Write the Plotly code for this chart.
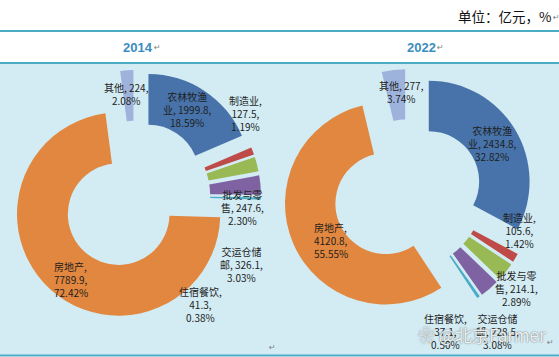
import plotly.graph_objects as go

# ---------------- data ----------------
categories = ["农林牧渔业", "制造业", "批发与零售", "交运仓储邮", "住宿餐饮", "房地产", "其他"]
values_2014 = [1999.8, 127.5, 247.6, 326.1, 41.3, 7789.9, 224]
pct_2014 = [18.59, 1.19, 2.30, 3.03, 0.38, 72.42, 2.08]
values_2022 = [2434.8, 105.6, 214.1, 228.5, 37.1, 4120.8, 277]
pct_2022 = [32.82, 1.42, 2.89, 3.08, 0.50, 55.55, 3.74]
years = ["2014", "2022"]
unit_text = "单位：亿元，%"

# ---------------- style ----------------
W, H = 559, 357
colors = ["#4773AA", "#BE4B48", "#98B954", "#7E62A1", "#4BACC6", "#E1873F", "#9EB3DC"]
PULL = 0.24
R_BOX = [126, 125]  # half size of pie box (px)
centers = [(135, 196), (408, 194)]

def px(x):
    return x / W

def py(y):
    return 1 - y / H

# label positions (px), anchor
label_pos = [
    {  # 2014
        "农林牧渔业": (187, 109, "center"),
        "制造业": (245, 113, "center"),
        "批发与零售": (242, 207, "center"),
        "交运仓储邮": (241, 264, "center"),
        "住宿餐饮": (200, 304, "center"),
        "房地产": (52, 279, "left"),
        "其他": (126, 94, "center"),
    },
    {  # 2022
        "农林牧渔业": (492, 143, "center"),
        "制造业": (519, 230, "center"),
        "批发与零售": (516, 288, "center"),
        "交运仓储邮": (497, 331, "center"),
        "住宿餐饮": (445, 331, "center"),
        "房地产": (312, 240, "left"),
        "其他": (401, 92, "center"),
    },
]
title_pos = [(138, 48), (421, 48)]

def label_text(name, val, pct):
    v = f"{val:g}"
    p = f"{pct:.2f}%"
    if len(name) > 4:
        return f"{name[:4]}<br>{name[4:]}, {v},<br>{p}"
    if len(name) <= 2:
        return f"{name}, {v},<br>{p}"
    return f"{name},<br>{v},<br>{p}"

fig = go.Figure()
annotations = []
all_values = [values_2014, values_2022]
all_pcts = [pct_2014, pct_2022]

for i, (vals, pcts) in enumerate(zip(all_values, all_pcts)):
    cx, cy = centers[i]
    rb = R_BOX[i]
    fig.add_trace(go.Pie(
        labels=categories,
        values=vals,
        sort=False,
        direction="clockwise",
        rotation=0,
        hole=0.5,
        pull=[PULL] * len(vals),
        marker=dict(colors=colors, line=dict(width=0)),
        textinfo="none",
        showlegend=False,
        domain=dict(x=[px(cx - rb), px(cx + rb)],
                    y=[py(cy + rb), py(cy - rb)]),
    ))
    for name, v, p in zip(categories, vals, pcts):
        x, y, anc = label_pos[i][name]
        annotations.append(dict(
            x=px(x), y=py(y), xref="paper", yref="paper",
            text=label_text(name, v, p), showarrow=False,
            xanchor=anc, yanchor="middle", align=anc,
            font=dict(family="Noto Sans CJK SC", size=10, color="#1E1E1E"),
        ))
    tx, ty = title_pos[i]
    annotations.append(dict(
        x=px(tx), y=py(ty), xref="paper", yref="paper",
        text=f"<b>{years[i]}</b>", showarrow=False,
        xanchor="center", yanchor="middle",
        font=dict(family="Liberation Sans", size=13, color="#3A8DBE"),
    ))
    annotations.append(dict(
        x=px(tx + 14), y=py(ty), xref="paper", yref="paper",
        text="↵", showarrow=False, xanchor="left", yanchor="middle",
        font=dict(family="DejaVu Sans", size=8, color="#808080"),
    ))

# unit text
annotations.append(dict(
    x=px(553), y=py(16), xref="paper", yref="paper", text=unit_text,
    showarrow=False, xanchor="right", yanchor="middle",
    font=dict(family="Noto Sans CJK SC", size=13.5, color="#111111"),
))
for (x, y) in [(556, 17), (267, 347), (545, 342)]:
    annotations.append(dict(
        x=px(x), y=py(y), xref="paper", yref="paper", text="↵",
        showarrow=False, xanchor="left" if x < 550 else "center", yanchor="middle",
        font=dict(family="DejaVu Sans", size=8, color="#808080"),
    ))
# watermark
annotations.append(dict(
    x=px(548), y=py(334), xref="paper", yref="paper", text="❀ @北京Farmer",
    showarrow=False, xanchor="right", yanchor="middle",
    font=dict(family="Noto Sans CJK SC", size=17, color="rgba(255,255,255,0.9)",
              shadow="0px 0px 1.5px rgba(60,60,60,1)"),
))

shapes = [
    dict(type="rect", xref="paper", yref="paper", x0=0, x1=1,
         y0=py(355), y1=py(63), fillcolor="#D3EBF3", line=dict(width=0), layer="below"),
    dict(type="line", xref="paper", yref="paper", x0=0, x1=1, y0=py(31), y1=py(31),
         line=dict(color="#4BACC6", width=2), layer="below"),
    dict(type="line", xref="paper", yref="paper", x0=0, x1=1, y0=py(63), y1=py(63),
         line=dict(color="#4BACC6", width=2), layer="below"),
    dict(type="line", xref="paper", yref="paper", x0=0, x1=1, y0=py(355.5), y1=py(355.5),
         line=dict(color="#4BACC6", width=2), layer="below"),
]

fig.update_layout(
    width=W, height=H, autosize=False,
    margin=dict(l=0, r=0, t=0, b=0),
    paper_bgcolor="white", plot_bgcolor="white",
    annotations=annotations, shapes=shapes,
)

fig.write_html(
    "out.html",
    config={"displayModeBar": False},
    post_script="document.body.style.margin='0px';document.body.style.overflow='hidden';",
)
